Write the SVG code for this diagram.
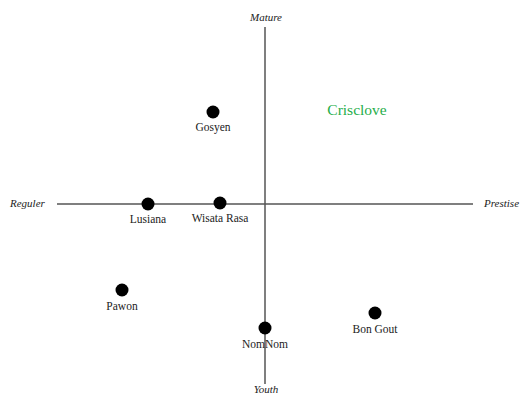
<svg xmlns="http://www.w3.org/2000/svg" width="521" height="394" viewBox="0 0 521 394">
<style>
.ax{stroke:#555;stroke-width:1.5;fill:none}
.dot{fill:#000}
.lb{font-family:"Liberation Serif",serif;font-size:11.5px;fill:#222;text-anchor:middle}
.al{font-family:"Liberation Serif",serif;font-size:11px;font-style:italic;fill:#222}
</style>
<rect width="521" height="394" fill="#fff"/>
<g id="connectors">
<line class="ax" x1="265" y1="27" x2="265" y2="384"/>
<line class="ax" x1="57" y1="204" x2="473" y2="204"/>
</g>
<g id="axis-labels">
<text class="al" x="266" y="21" text-anchor="middle">Mature</text>
<text class="al" x="266" y="393" text-anchor="middle">Youth</text>
<text class="al" x="10" y="207">Reguler</text>
<text class="al" x="484" y="207">Prestise</text>
</g>
<g id="crisclove"><text x="357" y="115" font-family="Liberation Serif,serif" font-size="15.5" fill="#1fae4a" text-anchor="middle">Crisclove</text></g>
<g id="gosyen"><circle class="dot" cx="213" cy="112" r="6.5"/><text class="lb" x="213" y="131">Gosyen</text></g>
<g id="lusiana"><circle class="dot" cx="148" cy="204" r="6.5"/><text class="lb" x="148" y="223">Lusiana</text></g>
<g id="wisata-rasa"><circle class="dot" cx="220" cy="203" r="6.5"/><text class="lb" x="220" y="222">Wisata Rasa</text></g>
<g id="pawon"><circle class="dot" cx="122" cy="290" r="6.5"/><text class="lb" x="122" y="310">Pawon</text></g>
<g id="nomnom"><circle class="dot" cx="265" cy="328" r="6.5"/><text class="lb" x="265" y="348">NomNom</text></g>
<g id="bon-gout"><circle class="dot" cx="375" cy="313" r="6.5"/><text class="lb" x="375" y="333">Bon Gout</text></g>
</svg>
